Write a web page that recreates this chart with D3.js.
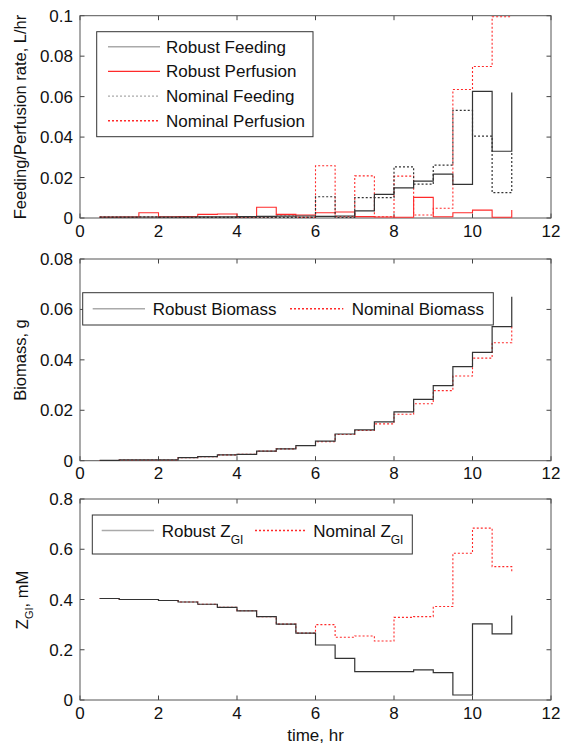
<!DOCTYPE html>
<html>
<head>
<meta charset="utf-8">
<script src="https://cdn.jsdelivr.net/npm/d3@7/dist/d3.min.js"></script>
<style>
  html, body { margin: 0; padding: 0; background: #fff; }
  svg { display: block; }
  text { font-family: "Liberation Sans", Arial, sans-serif; fill: #111; }
</style>
</head>
<body>
<svg id="chart" width="561" height="746"></svg>
<script>
// ---------- DATA ----------
const time = [0.5, 1, 1.5, 2, 2.5, 3, 3.5, 4, 4.5, 5, 5.5, 6, 6.5, 7, 7.5, 8, 8.5, 9, 9.5, 10, 10.5, 11];

const robustFeeding    = [0.0005, 0.0005, 0.0005, 0.0005, 0.0005, 0.0006, 0.0006, 0.0007, 0.0008, 0.0009, 0.001, 0.0008, 0.0010, 0.0035, 0.0117, 0.0149, 0.0182, 0.0217, 0.0166, 0.0626, 0.0330, 0.0620];
const robustPerfusion  = [0.0004, 0.0005, 0.0026, 0.0006, 0.0007, 0.0018, 0.0020, 0.0005, 0.0053, 0.0018, 0.0015, 0.0026, 0.0030, 0.0007, 0.0005, 0.0004, 0.0102, 0.0006, 0.0026, 0.0039, 0.0004, 0.0040];
const nominalFeeding   = [0.0003, 0.0003, 0.0005, 0.0003, 0.0003, 0.0003, 0.0003, 0.0003, 0.0003, 0.0003, 0.0003, 0.0105, 0.0003, 0.0101, 0.0101, 0.0253, 0.0167, 0.0261, 0.0532, 0.0405, 0.0125, 0.0330];
const nominalPerfusion = [0.0006, 0.0005, 0.0005, 0.0004, 0.0004, 0.0003, 0.0003, 0.0004, 0.0003, 0.0015, 0.0003, 0.0258, 0.0007, 0.0208, 0.0006, 0.0207, 0.0015, 0.0048, 0.0635, 0.0749, 0.0995, 0.0995];

const robustBiomass  = [0.0001, 0.0003, 0.0003, 0.0003, 0.0012, 0.0016, 0.0023, 0.0025, 0.0038, 0.0047, 0.0060, 0.0078, 0.0106, 0.0122, 0.0154, 0.0194, 0.0243, 0.0298, 0.0373, 0.0430, 0.0532, 0.0650];
const nominalBiomass = [0.0001, 0.0003, 0.0003, 0.0003, 0.0012, 0.0016, 0.0023, 0.0025, 0.0038, 0.0047, 0.0060, 0.0075, 0.0104, 0.0120, 0.0146, 0.0184, 0.0226, 0.0278, 0.0336, 0.0407, 0.0468, 0.0532];

const robustZ  = [0.404, 0.400, 0.400, 0.396, 0.390, 0.381, 0.369, 0.355, 0.332, 0.302, 0.266, 0.219, 0.166, 0.113, 0.113, 0.113, 0.120, 0.109, 0.020, 0.303, 0.263, 0.336];
const nominalZ = [0.404, 0.400, 0.400, 0.396, 0.390, 0.381, 0.369, 0.355, 0.332, 0.302, 0.266, 0.300, 0.250, 0.255, 0.235, 0.329, 0.332, 0.372, 0.584, 0.684, 0.531, 0.505];

const xTicks = [0, 2, 4, 6, 8, 10, 12];
const yTicksTop = [0, 0.02, 0.04, 0.06, 0.08, 0.1];
const yTicksMid = [0, 0.02, 0.04, 0.06, 0.08];
const yTicksBot = [0, 0.2, 0.4, 0.6, 0.8];

// ---------- LAYOUT ----------
const svg = d3.select("#chart");
const left = 80, right = 551;
const FS = 17;
const x = d3.scaleLinear().domain([0, 12]).range([left, right]);

const BLACK = "#333";
const RED = "#ff2a2a";
const LEG_GRAY = "#aaa";

const panels = [
  { top: 15.7, bottom: 218, ymax: 0.1, yticks: yTicksTop, fmt: d => d === 0 ? "0" : String(+d.toFixed(2)) },
  { top: 259, bottom: 460.7, ymax: 0.08, yticks: yTicksMid, fmt: d => d === 0 ? "0" : String(+d.toFixed(2)) },
  { top: 499, bottom: 700, ymax: 0.8, yticks: yTicksBot, fmt: d => d === 0 ? "0" : String(+d.toFixed(1)) }
];

function drawAxes(p) {
  const y = d3.scaleLinear().domain([0, p.ymax]).range([p.bottom, p.top]);
  p.y = y;
  const g = svg.append("g");
  const tl = 4.5;
  xTicks.forEach(t => {
    g.append("line").attr("x1", x(t)).attr("x2", x(t)).attr("y1", p.bottom).attr("y2", p.bottom - tl).attr("stroke", "#444");
    g.append("line").attr("x1", x(t)).attr("x2", x(t)).attr("y1", p.top).attr("y2", p.top + tl).attr("stroke", "#444");
    g.append("text").attr("x", x(t)).attr("y", p.bottom + 18.5).attr("text-anchor", "middle")
      .attr("font-size", FS).text(t);
  });
  p.yticks.forEach(v => {
    g.append("line").attr("x1", left).attr("x2", left + tl).attr("y1", y(v)).attr("y2", y(v)).attr("stroke", "#444");
    g.append("line").attr("x1", right).attr("x2", right - tl).attr("y1", y(v)).attr("y2", y(v)).attr("stroke", "#444");
    g.append("text").attr("x", left - 7).attr("y", y(v) + 6).attr("text-anchor", "end")
      .attr("font-size", FS).text(p.fmt(v));
  });
  g.append("rect").attr("x", left).attr("y", p.top).attr("width", right - left).attr("height", p.bottom - p.top)
    .attr("fill", "none").attr("stroke", "#555").attr("stroke-width", 1);
  return y;
}

function stairs(p, values, color, dotted, width) {
  const line = d3.line().x((d, i) => x(time[i])).y(d => p.y(d)).curve(d3.curveStepAfter);
  svg.append("path").datum(values).attr("d", line)
    .attr("fill", "none").attr("stroke", color).attr("stroke-width", width || 1.2)
    .attr("stroke-dasharray", dotted ? "2,2" : null);
}

function legendBox(x0, y0, w, h) {
  svg.append("rect").attr("x", x0).attr("y", y0).attr("width", w).attr("height", h)
    .attr("fill", "#fff").attr("stroke", "#333").attr("stroke-width", 1);
}
function legendLine(x1, x2, yy, color, dotted) {
  svg.append("line").attr("x1", x1).attr("x2", x2).attr("y1", yy).attr("y2", yy)
    .attr("stroke", color).attr("stroke-width", 1.4).attr("stroke-dasharray", dotted ? "2,2" : null);
}

panels.forEach(drawAxes);

// ---------- PANEL 1 ----------
const p1 = panels[0];
stairs(p1, robustPerfusion, RED, false, 1.1);
stairs(p1, nominalPerfusion, RED, true, 1.1);
stairs(p1, nominalFeeding, BLACK, true);
stairs(p1, robustFeeding, BLACK, false);

legendBox(96.7, 31.7, 216.3, 105);
const l1 = [
  { label: "Robust Feeding", color: LEG_GRAY, dotted: false },
  { label: "Robust Perfusion", color: RED, dotted: false },
  { label: "Nominal Feeding", color: LEG_GRAY, dotted: true },
  { label: "Nominal Perfusion", color: RED, dotted: true }
];
l1.forEach((d, i) => {
  const yy = 46.7 + i * 24.7;
  legendLine(108, 160, yy, d.color, d.dotted);
  svg.append("text").attr("x", 166).attr("y", yy + 6).attr("font-size", FS).text(d.label);
});

// ---------- PANEL 2 ----------
const p2 = panels[1];
stairs(p2, nominalBiomass, RED, true, 1.1);
stairs(p2, robustBiomass, BLACK, false);
legendBox(82.7, 292.7, 410.6, 32.3);
legendLine(92.7, 145, 308.8, LEG_GRAY, false);
svg.append("text").attr("x", 152.7).attr("y", 314.8).attr("font-size", FS).text("Robust Biomass");
legendLine(290, 343.3, 308.8, RED, true);
svg.append("text").attr("x", 351.7).attr("y", 314.8).attr("font-size", FS).text("Nominal Biomass");

// ---------- PANEL 3 ----------
const p3 = panels[2];
stairs(p3, nominalZ, RED, true, 1.1);
stairs(p3, robustZ, BLACK, false);
legendBox(92.3, 515, 320, 39);
legendLine(101.7, 154, 530.5, LEG_GRAY, false);
const t1 = svg.append("text").attr("x", 161.7).attr("y", 536.5).attr("font-size", FS);
t1.append("tspan").text("Robust Z");
t1.append("tspan").attr("dy", 7).attr("font-size", 12).text("GI");
legendLine(255, 306, 530.5, RED, true);
const t2 = svg.append("text").attr("x", 313.3).attr("y", 536.5).attr("font-size", FS);
t2.append("tspan").text("Nominal Z");
t2.append("tspan").attr("dy", 7).attr("font-size", 12).text("GI");

// ---------- AXIS LABELS ----------
svg.append("text").attr("transform", "translate(26,117) rotate(-90)").attr("text-anchor", "middle")
  .attr("font-size", 16.5).text("Feeding/Perfusion rate, L/hr");
svg.append("text").attr("transform", "translate(26,360) rotate(-90)").attr("text-anchor", "middle")
  .attr("font-size", 16.5).text("Biomass, g");
const zl = svg.append("text").attr("transform", "translate(28,600) rotate(-90)").attr("text-anchor", "middle")
  .attr("font-size", 16.5);
zl.append("tspan").text("Z");
zl.append("tspan").attr("dy", 5).attr("font-size", 11).text("GI");
zl.append("tspan").attr("dy", -5).text(", mM");
svg.append("text").attr("x", 315.5).attr("y", 741).attr("text-anchor", "middle")
  .attr("font-size", FS).text("time, hr");
</script>
</body>
</html>
